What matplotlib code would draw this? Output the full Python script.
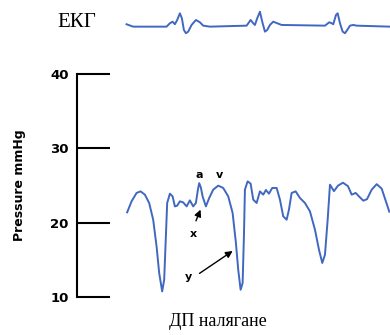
import numpy as np
import matplotlib.pyplot as plt

# ECG trace (time in arbitrary units, amplitude relative to baseline)
ecg_t = [126.7, 133.3, 166.7, 170, 172.7, 175, 177.3, 180, 182, 184, 186, 188.3, 191.7, 196, 200,
         203.3, 210, 246.7, 250.7, 253.3, 255, 257.3, 260, 262.3, 265, 267.3, 270, 273.3, 277.3,
         281.7, 325, 329.3, 331.7, 333.3, 336, 337.7, 340, 342.7, 345, 347.3, 350, 353.3, 356.7, 390]
ecg_v = [0.7, -1.7, -1.7, 1.7, 3.3, 0.7, 5, 11.7, 6.7, -5, -8.3, -6.7, 0, 5, 2.7,
         -0.7, -1.7, -0.7, 5, 1.7, 0, 6.7, 13.3, 3.3, -6.7, -5, 0, 3.3, 1.7,
         0, -0.7, 2.7, 1.7, 0.7, 10, 11.7, 1.7, -6.7, -8.3, -5, -0.7, 0, -0.7, -1.7]

# pressure trace, mmHg
p_t = [127.3, 131.7, 136.7, 140.7, 145, 149.3, 153.3, 156.7, 159.3, 162.3, 164.3, 166, 167.3,
       170, 172.7, 175, 177.3, 180, 183.3, 186.7, 190, 193.3, 196, 198, 199.3, 201, 202.7, 206,
       209.3, 213.3, 218.3, 223.3, 228.3, 232.7, 236, 238.3, 240.7, 242.7, 244, 245, 247.7,
       250.7, 253.3, 256.7, 260, 263.3, 266, 269, 272.3, 276.7, 280, 283.3, 286.7, 289, 291.7,
       295.7, 300, 305, 310, 315, 319, 322.3, 325, 327.7, 330, 334, 338, 343, 348, 351.7, 355.7,
       358.3, 363.3, 367, 371.7, 376.7, 381.7, 385, 389.3]
p_v = [21.39, 22.87, 24.0, 24.21, 23.77, 22.65, 20.4, 16.81, 13.23, 10.75, 12.33, 18.16, 22.65,
       23.9, 23.54, 22.19, 22.29, 22.87, 22.73, 22.19, 23.0, 22.19, 22.65, 24.44, 25.32, 24.71,
       23.54, 22.19, 23.32, 24.44, 24.98, 24.67, 23.54, 21.31, 17.27, 13.67, 10.98, 11.88, 18.16,
       24.44, 25.56, 25.25, 23.1, 22.65, 24.21, 23.77, 24.4, 23.9, 24.67, 24.67, 23.1, 20.85,
       20.4, 21.75, 24.0, 24.21, 23.32, 22.65, 21.52, 19.06, 16.37, 14.58, 15.69, 20.4, 25.11,
       24.24, 24.98, 25.38, 24.91, 23.77, 24.0, 23.63, 22.96, 23.16, 24.44, 25.18, 24.58, 23.23,
       21.48]

yticks = [10, 20, 30, 40]
line_color = '#4068c0'

fig = plt.figure(figsize=(3.9, 3.35), dpi=100)

# pressure panel
ax = fig.add_axes([0.197, 0.1134, 0.803, 0.6657])
ax.plot(p_t, p_v, color=line_color, lw=1.4, solid_joinstyle='round', clip_on=False)
ax.set_xlim(77, 390)
ax.set_ylim(10, 40)
ax.set_yticks(yticks)
ax.set_yticklabels([str(v) for v in yticks], fontweight='bold', fontsize=9.5)
ax.tick_params(axis='y', direction='in', length=24, width=1.5, pad=6)
ax.set_xticks([])
for s in ['top', 'right', 'bottom']:
    ax.spines[s].set_visible(False)
ax.spines['left'].set_linewidth(1.5)
ax.set_ylabel('Pressure mmHg', fontweight='bold', fontsize=9, labelpad=17)

# wave labels
ax.text(199, 26.4, 'a', fontweight='bold', fontsize=8, ha='center', va='center')
ax.text(220, 26.4, 'v', fontweight='bold', fontsize=8, ha='center', va='center')
ax.text(193.3, 18.5, 'x', fontweight='bold', fontsize=8, ha='center', va='center')
ax.text(188.3, 12.7, 'y', fontweight='bold', fontsize=8, ha='center', va='center')
ax.annotate('', xy=(201.7, 22.1), xytext=(195, 19.9),
            arrowprops=dict(arrowstyle='-|>', color='black', lw=1, mutation_scale=10))
ax.annotate('', xy=(235, 16.4), xytext=(197.3, 12.97),
            arrowprops=dict(arrowstyle='-|>', color='black', lw=1, mutation_scale=10))

# ECG panel
ax2 = fig.add_axes([0.197, 0.866, 0.803, 0.119])
ax2.plot(ecg_t, ecg_v, color=line_color, lw=1.4, solid_joinstyle='round', clip_on=False)
ax2.set_xlim(77, 390)
ax2.set_ylim(-20, 20)
ax2.axis('off')

fig.text(77 / 390, 1 - 22.5 / 335, 'ЕКГ', family='Liberation Serif', fontsize=15,
         ha='center', va='center')
fig.text(218 / 390, 1 - 322 / 335, 'ДП налягане', family='Liberation Serif', fontsize=13,
         ha='center', va='center')

fig.savefig('out.png', dpi=100)
